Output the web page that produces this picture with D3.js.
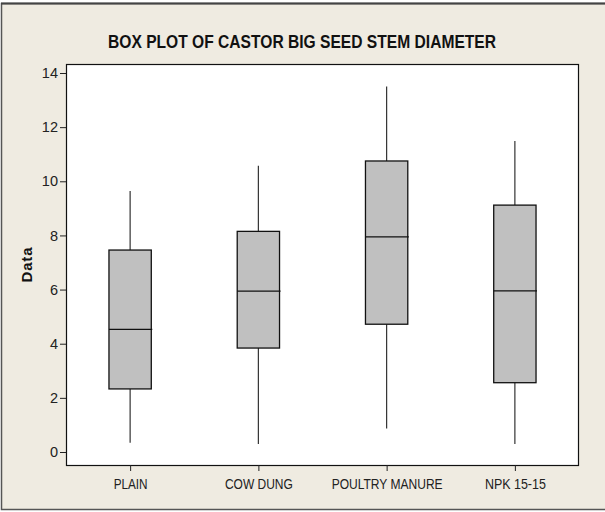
<!DOCTYPE html>
<html>
<head>
<meta charset="utf-8">
<script src="https://cdn.jsdelivr.net/npm/d3@7"></script>
<style>
  html, body { margin: 0; padding: 0; background: #fff; }
  svg { display: block; }
</style>
</head>
<body>
<script>
const categories = ["PLAIN", "COW DUNG", "POULTRY MANURE", "NPK 15-15"];
const whiskerLow  = [0.34, 0.30, 0.87, 0.30];
const q1          = [2.33, 3.84, 4.72, 2.56];
const median      = [4.53, 5.94, 7.95, 5.95];
const q3          = [7.46, 8.15, 10.75, 9.12];
const whiskerHigh = [9.64, 10.57, 13.50, 11.49];
const yTicks = [0, 2, 4, 6, 8, 10, 12, 14];
const titleText = "BOX PLOT OF CASTOR BIG SEED STEM DIAMETER";
const yLabel = "Data";

const W = 605, H = 512;
const plot = { left: 66, top: 64, right: 579, bottom: 465 };
const narrow = "'Liberation Sans Narrow', 'Arial Narrow', 'Liberation Sans', Arial, sans-serif";

const svg = d3.select("body").append("svg").attr("width", W).attr("height", H);

// outer background and frame
svg.append("rect").attr("x", 0).attr("y", 0).attr("width", W).attr("height", H).attr("fill", "#fff");
svg.append("rect").attr("x", 1.5).attr("y", 3.5).attr("width", W).attr("height", 506)
  .attr("fill", "#EFEBE1").attr("stroke", "#555").attr("stroke-width", 1.5);
svg.append("line").attr("x1", 1).attr("x2", W).attr("y1", 3.5).attr("y2", 3.5)
  .attr("stroke", "#444").attr("stroke-width", 2);

// plot area
svg.append("rect").attr("x", plot.left + 0.5).attr("y", plot.top + 0.5)
  .attr("width", plot.right - plot.left - 1).attr("height", plot.bottom - plot.top)
  .attr("fill", "#fff").attr("stroke", "#111").attr("stroke-width", 1.2);

const y = d3.scaleLinear().domain([0, 14]).range([452, 73]);
const x = d3.scalePoint().domain(categories).range([plot.left, plot.right]).padding(0.5);
const boxW = x.step() * 0.33;

// y axis
const yAxis = svg.append("g").attr("transform", `translate(${plot.left},0)`)
  .call(d3.axisLeft(y).tickValues(yTicks).tickSize(6).tickPadding(2).tickFormat(d3.format("d")));
yAxis.select(".domain").remove();
yAxis.selectAll("line").attr("stroke", "#222");
yAxis.selectAll("text").attr("font-family", narrow).attr("font-size", 14.5).attr("fill", "#222");

// x axis
const xAxis = svg.append("g").attr("transform", `translate(0,${plot.bottom})`)
  .call(d3.axisBottom(x).tickSize(6).tickPadding(6));
xAxis.select(".domain").remove();
xAxis.selectAll("line").attr("stroke", "#222");
const xWidths = { "PLAIN": 34, "COW DUNG": 68, "POULTRY MANURE": 111, "NPK 15-15": 61 };
xAxis.selectAll("text").attr("font-family", narrow).attr("font-size", 15.5).attr("fill", "#222")
  .attr("dy", null).attr("y", 24)
  .attr("textLength", d => xWidths[d]).attr("lengthAdjust", "spacingAndGlyphs");

// boxes
const data = categories.map((c, i) => ({ c, lo: whiskerLow[i], q1: q1[i], med: median[i], q3: q3[i], hi: whiskerHigh[i] }));
const g = svg.append("g");
const b = g.selectAll("g.box").data(data).join("g").attr("class", "box");
b.append("line").attr("x1", d => x(d.c)).attr("x2", d => x(d.c))
  .attr("y1", d => y(d.hi)).attr("y2", d => y(d.q3)).attr("stroke", "#333").attr("stroke-width", 1.2);
b.append("line").attr("x1", d => x(d.c)).attr("x2", d => x(d.c))
  .attr("y1", d => y(d.q1)).attr("y2", d => y(d.lo)).attr("stroke", "#333").attr("stroke-width", 1.2);
b.append("rect").attr("x", d => x(d.c) - boxW / 2).attr("width", boxW)
  .attr("y", d => y(d.q3)).attr("height", d => y(d.q1) - y(d.q3))
  .attr("fill", "#C0C0C0").attr("stroke", "#111").attr("stroke-width", 1.3);
b.append("line").attr("x1", d => x(d.c) - boxW / 2).attr("x2", d => x(d.c) + boxW / 2 + 1)
  .attr("y1", d => y(d.med)).attr("y2", d => y(d.med)).attr("stroke", "#111").attr("stroke-width", 1.3);

// title
svg.append("text").attr("x", 302).attr("y", 48).attr("text-anchor", "middle")
  .attr("font-family", narrow).attr("font-weight", "bold").attr("font-size", 18).attr("fill", "#111")
  .attr("textLength", 388).attr("lengthAdjust", "spacingAndGlyphs")
  .text(titleText);

// y label
svg.append("text").attr("transform", "translate(32,265) rotate(-90)").attr("text-anchor", "middle")
  .attr("font-family", "'Liberation Sans', Arial, sans-serif").attr("font-weight", "bold")
  .attr("font-size", 15).attr("fill", "#111")
  .attr("textLength", 35).attr("lengthAdjust", "spacing")
  .text(yLabel);
</script>
</body>
</html>
